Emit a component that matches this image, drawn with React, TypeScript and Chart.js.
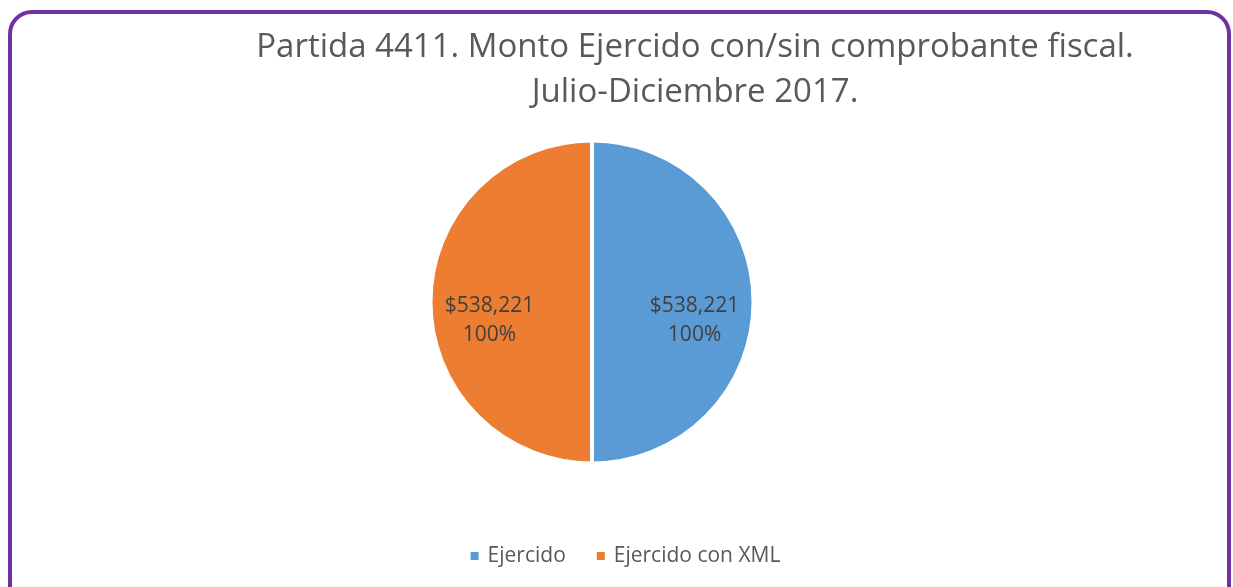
import React, { useEffect, useRef } from 'react';
import { Chart, registerables } from 'chart.js';

Chart.register(...registerables);

const categories = ['Ejercido', 'Ejercido con XML'];
const values = [538221, 538221];
const percentLabels = ['100%', '100%'];
const colors = ['#5B9BD5', '#ED7D31'];
const titleLines = [
  'Partida 4411. Monto Ejercido con/sin comprobante fiscal.',
  'Julio-Diciembre 2017.',
];

const FONT = '"Open Sans", "Noto Sans", sans-serif';

const annotatePlugin = {
  id: 'annotate',
  afterDatasetsDraw(chart: any) {
    const ctx = chart.ctx;
    const meta = chart.getDatasetMeta(0);
    ctx.save();
    ctx.fillStyle = '#404040';
    ctx.font = `21px ${FONT}`;
    ctx.textAlign = 'center';
    ctx.textBaseline = 'middle';
    meta.data.forEach((arc: any, i: number) => {
      const p = arc.getProps(['x', 'y', 'startAngle', 'endAngle', 'outerRadius'], true);
      const mid = (p.startAngle + p.endAngle) / 2;
      const r = p.outerRadius * 0.635;
      const x = p.x + Math.cos(mid) * r;
      const y = p.y + Math.sin(mid) * r + 19;
      ctx.fillText('$' + values[i].toLocaleString('en-US'), x, y - 14.5);
      ctx.fillText(percentLabels[i], x, y + 14.5);
    });
    ctx.restore();
  },
  afterDraw(chart: any) {
    const ctx = chart.ctx;
    ctx.save();
    // Title
    ctx.fillStyle = '#595959';
    ctx.font = `33px ${FONT}`;
    ctx.textAlign = 'center';
    ctx.textBaseline = 'alphabetic';
    const tx = 695;
    ctx.fillText(titleLines[0], tx, 57);
    ctx.fillText(titleLines[1], tx, 102);

    // Legend
    ctx.font = `21px ${FONT}`;
    ctx.textAlign = 'left';
    ctx.textBaseline = 'middle';
    const box = 8;
    const gap = 9;
    const itemGap = 31;
    const widths = categories.map((c) => box + gap + ctx.measureText(c).width);
    const total = widths.reduce((a, b) => a + b, 0) + itemGap * (categories.length - 1);
    let x = 625.5 - total / 2;
    const ly = 556;
    categories.forEach((c, i) => {
      ctx.fillStyle = colors[i];
      ctx.fillRect(x, ly - box / 2, box, box);
      ctx.fillStyle = '#595959';
      ctx.fillText(c, x + box + gap, ly);
      x += widths[i] + itemGap;
    });
    ctx.restore();
  },
};

export default function App() {
  const ref = useRef<HTMLCanvasElement | null>(null);
  useEffect(() => {
    if (!ref.current) return;
    const chart = new Chart(ref.current, {
      type: 'pie',
      data: {
        labels: categories,
        datasets: [
          {
            data: values,
            backgroundColor: colors,
            borderColor: '#FFFFFF',
            borderWidth: 4,
          },
        ],
      },
      options: {
        animation: false,
        responsive: false,
        maintainAspectRatio: false,
        layout: {
          padding: { top: 138.5, bottom: 121.5, left: 428.5, right: 477.5 },
        },
        plugins: {
          legend: { display: false },
          title: { display: false },
          tooltip: { enabled: false },
        },
      },
      plugins: [annotatePlugin],
    });
    return () => chart.destroy();
  }, []);

  return (
    <div
      style={{
        position: 'fixed',
        left: 0,
        top: 0,
        width: 1233,
        height: 587,
        overflow: 'hidden',
        background: '#FFFFFF',
      }}
    >
      <canvas
        ref={ref}
        width={1233}
        height={587}
        style={{ position: 'absolute', left: 0, top: 0, width: 1233, height: 587 }}
      />
      <div
        style={{
          position: 'absolute',
          left: 8,
          top: 10,
          width: 1223,
          height: 800,
          boxSizing: 'border-box',
          border: '4px solid #7030A0',
          borderRadius: 24,
          pointerEvents: 'none',
        }}
      />
    </div>
  );
}
